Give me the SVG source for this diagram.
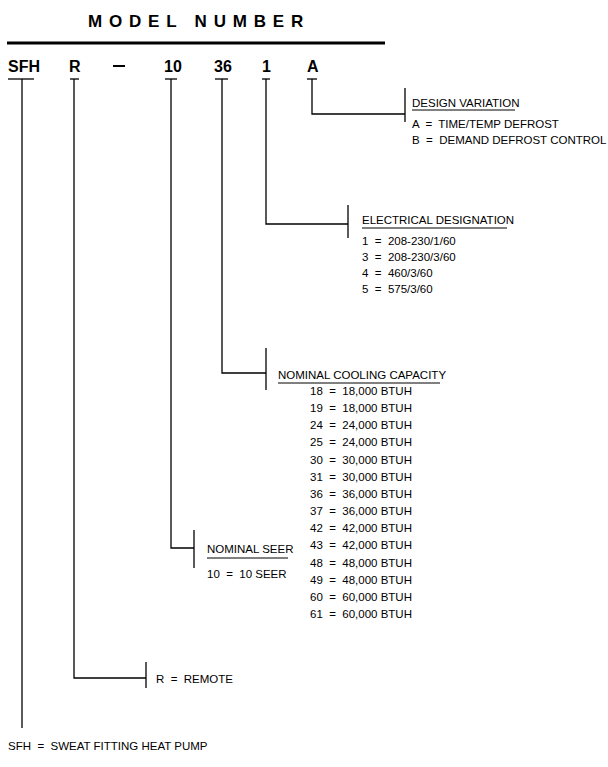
<svg xmlns="http://www.w3.org/2000/svg" width="608" height="767" viewBox="0 0 608 767">
<style>
text{font-family:"Liberation Sans",Arial,sans-serif;font-size:11.5px;fill:#000;white-space:pre}
.code{font-size:16px;font-weight:bold}
.t{font-size:17px;font-weight:bold;letter-spacing:6.8px}
.c line,.c polyline{stroke:#000;stroke-width:1.3;fill:none}
.u{stroke:#000;stroke-width:1}
</style>
<rect width="608" height="767" fill="#fff"/>
<text class="t" x="88" y="27">MODEL NUMBER</text>
<line x1="7" y1="43" x2="385" y2="43" stroke="#000" stroke-width="3"/>
<g id="codes">
<text class="code" x="8" y="72">SFH</text>
<text class="code" x="69" y="72">R</text>
<line x1="113" y1="66" x2="125" y2="66" stroke="#000" stroke-width="2"/>
<text class="code" x="164" y="72">10</text>
<text class="code" x="214" y="72">36</text>
<text class="code" x="262" y="72">1</text>
<text class="code" x="307" y="72">A</text>
</g>
<g class="c" id="connectors">
<line x1="8" y1="79" x2="34" y2="79"/><line x1="70" y1="79" x2="79" y2="79"/>
<line x1="165" y1="79" x2="177" y2="79"/><line x1="215" y1="79" x2="228" y2="79"/>
<line x1="262" y1="79" x2="270" y2="79"/><line x1="307" y1="79" x2="317" y2="79"/>
<polyline points="312,79 312,114 405,114"/><line x1="405" y1="88" x2="405" y2="122"/>
<polyline points="266,79 266,224 348,224"/><line x1="348" y1="205" x2="348" y2="238"/>
<polyline points="222,79 222,373 266,373"/><line x1="266" y1="348" x2="266" y2="390"/>
<polyline points="171,79 171,548 194,548"/><line x1="194" y1="530" x2="194" y2="568"/>
<polyline points="74,79 74,678 146,678"/><line x1="146" y1="662" x2="146" y2="688"/>
<line x1="22" y1="79" x2="22" y2="728"/>
</g>
<g id="design">
<text x="412" y="107">DESIGN VARIATION</text><line class="u" x1="412" y1="110" x2="515" y2="110"/>
<text x="412" y="128">A  =  TIME/TEMP DEFROST</text>
<text x="412" y="144">B  =  DEMAND DEFROST CONTROL</text>
</g>
<g id="electrical">
<text x="362" y="224">ELECTRICAL DESIGNATION</text><line class="u" x1="362" y1="228" x2="507" y2="228"/>
<text x="362" y="245">1  =  208-230/1/60</text>
<text x="362" y="261">3  =  208-230/3/60</text>
<text x="362" y="277">4  =  460/3/60</text>
<text x="362" y="293">5  =  575/3/60</text>
</g>
<g id="capacity">
<text x="278" y="379">NOMINAL COOLING CAPACITY</text><line class="u" x1="278" y1="383" x2="440" y2="383"/>
<text x="310" y="395">18  =  18,000 BTUH</text>
<text x="310" y="412">19  =  18,000 BTUH</text>
<text x="310" y="429">24  =  24,000 BTUH</text>
<text x="310" y="446">25  =  24,000 BTUH</text>
<text x="310" y="464">30  =  30,000 BTUH</text>
<text x="310" y="481">31  =  30,000 BTUH</text>
<text x="310" y="498">36  =  36,000 BTUH</text>
<text x="310" y="515">37  =  36,000 BTUH</text>
<text x="310" y="532">42  =  42,000 BTUH</text>
<text x="310" y="549">43  =  42,000 BTUH</text>
<text x="310" y="567">48  =  48,000 BTUH</text>
<text x="310" y="584">49  =  48,000 BTUH</text>
<text x="310" y="601">60  =  60,000 BTUH</text>
<text x="310" y="618">61  =  60,000 BTUH</text>
</g>
<g id="seer">
<text x="207" y="553">NOMINAL SEER</text><line class="u" x1="207" y1="558" x2="288" y2="558"/>
<text x="207" y="578">10  =  10 SEER</text>
</g>
<g id="remote"><text x="156" y="683">R  =  REMOTE</text></g>
<g id="sfh"><text x="8" y="750">SFH  =  SWEAT FITTING HEAT PUMP</text></g>
</svg>
